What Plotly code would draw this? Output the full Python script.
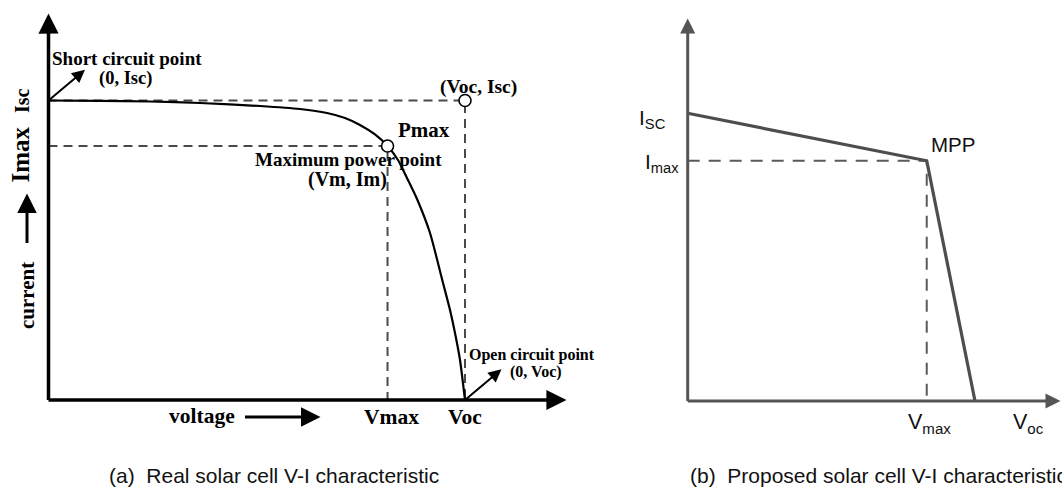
import plotly.graph_objects as go

# ---------------- data (normalised units) ----------------
# (a) real solar cell V-I curve: V / Voc , I / Isc
V_real = [0.0, 0.1236, 0.2437, 0.3637, 0.5078, 0.6038, 0.6687, 0.7119, 0.7479, 0.7839, 0.814,
          0.8391, 0.8607, 0.8848, 0.9160, 0.9472, 0.9640, 0.9760, 0.9880, 1.0]
I_real = [1.0, 0.9990, 0.9967, 0.9917, 0.9816, 0.9716, 0.9583, 0.9416, 0.9182, 0.8865, 0.848,
          0.8013, 0.7412, 0.6711, 0.5576, 0.3907, 0.3005, 0.2237, 0.1336, 0.0]
Voc_a, Isc_a = 1.0, 1.0
Vm_a, Im_a = 0.814, 0.848

# (b) proposed piece-wise linear characteristic
V_prop = [0.0, 0.832, 1.0]
I_prop = [1.0, 0.835, 0.0]
Voc_b, Isc_b = 1.0, 1.0
Vm_b, Im_b = 0.832, 0.835

caption_a = "(a)  Real solar cell V-I characteristic"
caption_b = "(b)  Proposed solar cell V-I characteristic"

# ---------------- layout helpers ----------------
W, H = 1062, 487
SPLIT = 600
# left panel pixel frame
ax0, ay0, sxa, sya = 48.5, 400.0, 416.5, 299.5
# right panel pixel frame
bx0, by0, sxb, syb = 687.7, 401.0, 287.3, 287.7


def P(x):
    return x / W


def Q(y):
    return 1 - y / H


SERIF = "Liberation Serif"
SANS = "Liberation Sans"

fig = go.Figure()

# ----- panel (a) -----
dash_a = dict(color="#4a4a4a", width=2, dash="9px,6px")
fig.add_trace(go.Scatter(x=[0, Voc_a, Voc_a], y=[Isc_a, Isc_a, 0], mode="lines", line=dash_a,
                         xaxis="x", yaxis="y", hoverinfo="skip"))
fig.add_trace(go.Scatter(x=[0, Vm_a, Vm_a], y=[Im_a, Im_a, 0], mode="lines", line=dash_a,
                         xaxis="x", yaxis="y", hoverinfo="skip"))
fig.add_trace(go.Scatter(x=V_real, y=I_real, mode="lines",
                         line=dict(color="black", width=2.2, shape="spline", smoothing=0.6),
                         xaxis="x", yaxis="y"))
fig.add_trace(go.Scatter(x=[Vm_a, Voc_a], y=[Im_a, Isc_a], mode="markers",
                         marker=dict(size=12, color="white", line=dict(color="black", width=1.6)),
                         xaxis="x", yaxis="y"))

# ----- panel (b) -----
fig.add_trace(go.Scatter(x=[0, Vm_b, Vm_b], y=[Im_b, Im_b, 0], mode="lines",
                         line=dict(color="#5a5a5a", width=2, dash="12px,9px"),
                         xaxis="x2", yaxis="y2", hoverinfo="skip"))
fig.add_trace(go.Scatter(x=V_prop, y=I_prop, mode="lines", line=dict(color="#4d4d4d", width=3.2),
                         xaxis="x2", yaxis="y2"))

ann = []


def arrow(x, y, axp, ayp, xref, yref, color, width, size, head=2):
    ann.append(dict(x=x, y=y, xref=xref, yref=yref, ax=axp, ay=ayp, text="", showarrow=True,
                    arrowside="start", startarrowhead=head, startarrowsize=size,
                    arrowwidth=width, arrowcolor=color, standoff=0, startstandoff=0))


def txt(text, x, y, xref, yref, size, family, xanchor="center", yanchor="middle", xshift=0, yshift=0,
        angle=0, color="black"):
    ann.append(dict(text=text, x=x, y=y, xref=xref, yref=yref, showarrow=False, xanchor=xanchor,
                    yanchor=yanchor, xshift=xshift, yshift=yshift, textangle=angle,
                    font=dict(family=family, size=size, color=color)))


# axes of panel (a)
arrow(0, 0, 0, -(ay0 - 12), "x", "y", "black", 3.5, 1.15)
arrow(0, 0, 568 - ax0, 0, "x", "y", "black", 3.5, 1.15)
# small pointer arrows
arrow(0, Isc_a, 38, -32, "x", "y", "black", 2, 1.3)
arrow(Voc_a, 0, 38, -32, "x", "y", "black", 2, 1.3)
# voltage / current arrows
arrow(P(245), Q(417), 77, 0, "paper", "paper", "black", 3, 1.3)
arrow(P(27), Q(243), 0, -51, "paper", "paper", "black", 3, 1.3)

# labels (a)
txt("<b>Short circuit point</b>", 0, Isc_a, "x", "y", 19, SERIF, "left", xshift=1, yshift=42)
txt("<b>(0, Isc)</b>", 0, Isc_a, "x", "y", 18.5, SERIF, xshift=77, yshift=22)
txt("<b>(Voc, Isc)</b>", Voc_a, Isc_a, "x", "y", 19.5, SERIF, xshift=13, yshift=14)
txt("<b>Pmax</b>", Vm_a, Im_a, "x", "y", 21, SERIF, "left", xshift=8, yshift=16)
txt("<b>Maximum power point</b>", Vm_a, Im_a, "x", "y", 19, SERIF, xshift=-39, yshift=-13)
txt("<b>(Vm, Im)</b>", Vm_a, Im_a, "x", "y", 20, SERIF, xshift=-40, yshift=-33)
txt("<b>Open circuit point</b>", Voc_a, 0, "x", "y", 16, SERIF, "left", xshift=2, yshift=45)
txt("<b>(0, Voc)</b>", Voc_a, 0, "x", "y", 16, SERIF, "left", xshift=43, yshift=28)
txt("<b>voltage</b>", P(202), Q(416), "paper", "paper", 21.5, SERIF)
txt("<b>Vmax</b>", Vm_a, 0, "x", "y", 21.5, SERIF, xshift=4, yshift=-17)
txt("<b>Voc</b>", Voc_a, 0, "x", "y", 21.5, SERIF, xshift=0, yshift=-17)
txt("<b>Isc</b>", 0, Isc_a, "x", "y", 20, SERIF, xshift=-27, angle=-90)
txt("<b>Imax</b>", 0, Im_a, "x", "y", 25, SERIF, xshift=-28, yshift=-9, angle=-90)
txt("<b>current</b>", P(27), Q(296), "paper", "paper", 21, SERIF, angle=-90)

# axes of panel (b)
arrow(0, 0, 0, -(by0 - 17), "x2", "y2", "#555555", 3, 1.0)
arrow(0, 0, 1070 - bx0, 0, "x2", "y2", "#555555", 3, 1.0)

# labels (b)
txt("I<sub>SC</sub>", 0, Isc_b, "x2", "y2", 21, SANS, "right", xshift=-20, yshift=-6, color="#111111")
txt("I<sub>max</sub>", 0, Im_b, "x2", "y2", 21, SANS, "right", xshift=-7, yshift=-2, color="#111111")
txt("MPP", Vm_b, Im_b, "x2", "y2", 20.5, SANS, "left", xshift=2, yshift=16, color="#111111")
txt("V<sub>max</sub>", Vm_b, 0, "x2", "y2", 21.5, SANS, xshift=3, yshift=-22, color="#111111")
txt("V<sub>oc</sub>", Voc_b, 0, "x2", "y2", 21.5, SANS, xshift=53, yshift=-22, color="#111111")

# captions
txt(caption_a, P(107), Q(475), "paper", "paper", 21, SANS, "left", color="#111111")
txt(caption_b, P(688), Q(475), "paper", "paper", 21, SANS, "left", color="#111111")

hidden = dict(visible=False, showgrid=False, zeroline=False, fixedrange=True)
fig.update_layout(
    width=W, height=H, margin=dict(l=0, r=0, t=0, b=0),
    paper_bgcolor="white", plot_bgcolor="white", showlegend=False,
    xaxis=dict(domain=[0, SPLIT / W], range=[-ax0 / sxa, (SPLIT - ax0) / sxa], **hidden),
    yaxis=dict(domain=[0, 1], range=[-(H - ay0) / sya, ay0 / sya], **hidden),
    xaxis2=dict(domain=[SPLIT / W, 1], range=[-(bx0 - SPLIT) / sxb, (W - bx0) / sxb], **hidden),
    yaxis2=dict(domain=[0, 1], range=[-(H - by0) / syb, by0 / syb], anchor="x2", **hidden),
    annotations=ann,
)

fig.write_html("out.html")
